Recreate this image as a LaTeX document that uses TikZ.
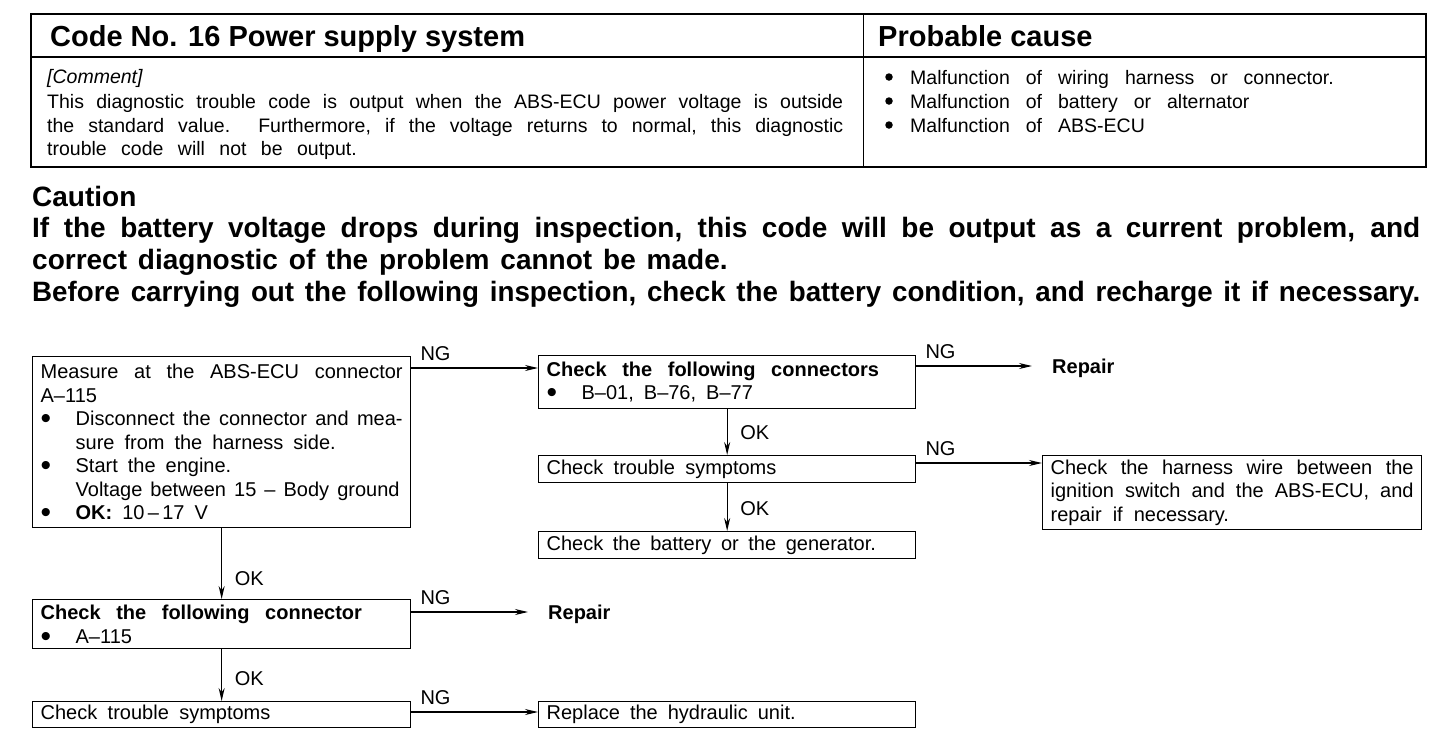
\documentclass[tikz,border=0pt]{standalone}
\usepackage{fontspec}
\usepackage{graphicx}
\setmainfont{Liberation Sans}
\newfontfamily\csf{Liberation Sans}[WordSpace=1.4]
\usetikzlibrary{arrows.meta,calc}
\newcommand{\bigdot}{\smash{\raisebox{-0.15em}{\scalebox{1.5}{\textbullet}}}}
\newcommand{\bul}{\makebox[35pt][l]{\bigdot}}
\newcommand{\tsp}{\hspace{2pt plus 1fil}}
\newcommand{\wsp}[1]{\spaceskip=#1em plus .5em minus .25em\xspaceskip=\spaceskip\relax}
\newcommand{\jline}[2]{\makebox[#1][s]{#2}}
\begin{document}
\begin{tikzpicture}[x=1pt,y=-1pt,
  box/.style={draw, line width=1.3pt, rectangle, anchor=north west, inner xsep=8pt, inner ysep=0pt, align=left, font=\fontsize{20}{23.5}\selectfont},
  arr/.style={-{Stealth[length=13pt,width=6pt]}, line width=1.2pt},
  lbl/.style={inner sep=0pt, font=\fontsize{20}{24}\selectfont},
  rep/.style={inner sep=0pt, font=\bfseries\fontsize{20}{24}\selectfont},
  hdr/.style={inner sep=0pt, anchor=base west, font=\bfseries\fontsize{29}{34}\selectfont},
  cmt/.style={inner sep=0pt, anchor=base west, font=\fontsize{19.5}{24}\selectfont},
  dot/.style={fill=black, circle, inner sep=0pt, minimum size=7.5pt},
  cau/.style={inner sep=0pt, anchor=base west, font=\csf\bfseries\fontsize{28}{32}\selectfont}]
\useasboundingbox (0,0) rectangle (1456,740);
\fill[white] (0,0) rectangle (1456,740);
% ---------- table ----------
\draw[line width=1.8pt] (31,14) rectangle (1426,167);
\draw[line width=1.2pt] (31,57) -- (1426,57);
\draw[line width=1pt] (863,14) -- (863,167);
\node[hdr] (h1) at (50,46) {Code No. 16 Power supply system};
\node[hdr] (h2) at (878,46) {Probable cause};
\node[cmt] (c1) at (47,83) {\itshape [Comment]};
\node[cmt] (c2) at (47,108) {\wsp{0.7}\jline{796pt}{This diagnostic trouble code is output when the ABS-ECU power voltage is outside}};
\node[cmt] (c3) at (47,132) {\wsp{0.7}\jline{796pt}{the standard value.\ \ Furthermore, if the voltage returns to normal, this diagnostic}};
\node[cmt] (c4) at (47,155) {\wsp{0.74}trouble code will not be output.};
\node[dot] (d1) at (889,77) {};
\node[dot] (d2) at (889,101) {};
\node[dot] (d3) at (889,125) {};
\node[cmt] (p1) at (910,84) {\wsp{0.82}Malfunction of wiring harness or connector.};
\node[cmt] (p2) at (910,108) {\wsp{0.82}Malfunction of battery or alternator};
\node[cmt] (p3) at (910,132) {\wsp{0.82}Malfunction of ABS-ECU};
% ---------- caution ----------
\node[cau] (k0) at (32,206) {Caution};
\node[cau] (k1) at (32,237) {\jline{1388pt}{If the battery voltage drops during inspection, this code will be output as a current problem, and}};
\node[cau] (k2) at (32,269) {correct diagnostic of the problem cannot be made.};
\node[cau] (k3) at (32,301) {\resizebox{1388pt}{\height}{Before carrying out the following inspection, check the battery condition, and recharge it if necessary.}};
% ---------- flow boxes ----------
\node[box, text width=362pt, minimum height=171pt] (A) at (32,356) {\wsp{0.5}%
\jline{362pt}{Measure at the ABS-ECU connector}\\
A–115\\
\bul\makebox[327pt][s]{Disconnect\tsp the\tsp connector\tsp and\tsp mea-}\\
\hspace*{35pt}sure from the harness side.\\
\bul Start the engine.\\
\hspace*{35pt}\jline{324pt}{Voltage between 15 – Body ground}\\
\bul\textbf{OK:} 10\,–\,17 V};
\node[box, text width=361pt, minimum height=53pt] (B) at (538,355) {\wsp{0.5}%
{\wsp{0.78}\textbf{Check the following connectors}}\\
\bul B–01, B–76, B–77};
\node[box, text width=361pt, minimum height=27pt] (C) at (538,455) {\wsp{0.52}Check trouble symptoms};
\node[box, text width=363pt, minimum height=74pt] (D) at (1042,455) {\wsp{0.55}%
\jline{363pt}{Check the harness wire between the}\\
\jline{363pt}{ignition switch and the ABS-ECU, and}\\
repair if necessary.};
\node[box, text width=361pt, minimum height=27pt] (E) at (538,531) {\wsp{0.48}Check the battery or the generator.};
\node[box, text width=362pt, minimum height=49pt] (F) at (32,599) {\wsp{0.5}%
{\wsp{0.78}\textbf{Check the following connector}}\\
\bul A–115};
\node[box, text width=362pt, minimum height=26pt] (G) at (32,701) {\wsp{0.52}Check trouble symptoms};
\node[box, text width=361pt, minimum height=26pt] (H) at (538,701) {\wsp{0.5}Replace the hydraulic unit.};
\node[rep, anchor=west] (R1) at (1052,368) {Repair};
\node[rep, anchor=west] (R2) at (548,614) {Repair};
% ---------- connectors ----------
\coordinate (a1) at ($(A.north east)+(0,12)$);
\coordinate (b1) at ($(B.north east)+(0,11)$);
\coordinate (c1r) at ($(C.north east)+(0,8)$);
\coordinate (f1) at ($(F.north east)+(0,13)$);
\coordinate (g1) at ($(G.north east)+(0,11)$);
\draw[arr] (a1) -- (a1 -| B.west);
\draw[arr, shorten >=20pt] (b1) -- (b1 -| R1.west);
\draw[arr] (c1r) -- (c1r -| D.west);
\draw[arr, shorten >=20pt] (f1) -- (f1 -| R2.west);
\draw[arr] (g1) -- (g1 -| H.west);
\draw[arr] (A.south) -- (F.north);
\draw[arr] (F.south) -- (G.north);
\draw[arr] (B.south) -- (C.north);
\draw[arr] (C.south) -- (E.north);
\node[lbl, anchor=south west] at ($(a1)+(9,-7)$) {NG};
\node[lbl, anchor=south west] at ($(b1)+(9,-7)$) {NG};
\node[lbl, anchor=south west] at ($(c1r)+(9,-7)$) {NG};
\node[lbl, anchor=south west] at ($(f1)+(9,-7)$) {NG};
\node[lbl, anchor=south west] at ($(g1)+(9,-7)$) {NG};
\node[lbl, anchor=west] at ($(F.north)+(13,-20)$) {OK};
\node[lbl, anchor=west] at ($(G.north)+(13,-22)$) {OK};
\node[lbl, anchor=west] at ($(C.north)+(13,-22)$) {OK};
\node[lbl, anchor=west] at ($(E.north)+(13,-22)$) {OK};
\end{tikzpicture}
\end{document}
